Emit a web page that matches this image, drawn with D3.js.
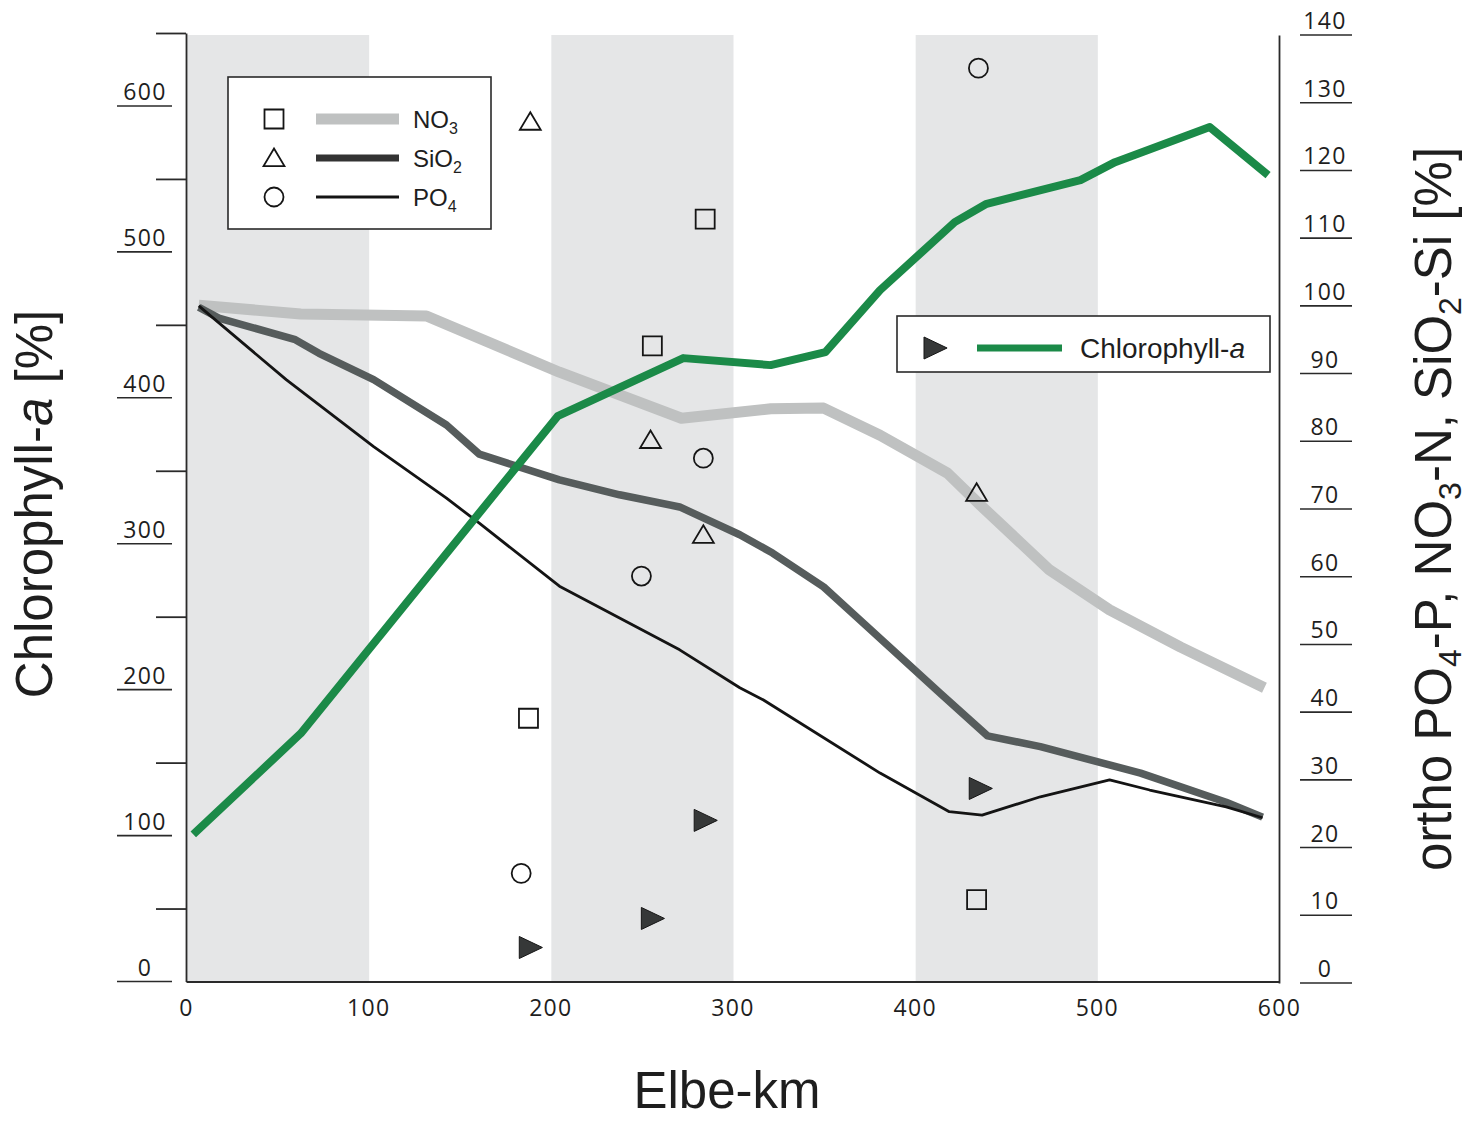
<!DOCTYPE html>
<html>
<head>
<meta charset="utf-8">
<script src="https://cdn.jsdelivr.net/npm/d3@7"></script>
<style>
  body { margin: 0; background: #fff; }
</style>
</head>
<body>
<svg id="chart" width="1470" height="1121"></svg>
<script>
// River kilometre ticks and axis ticks
const kmTicks = [0, 100, 200, 300, 400, 500, 600];
const chlLabelTicks = [0, 100, 200, 300, 400, 500, 600];
const chlMinorTicks = [50, 150, 250, 350, 450, 550, 650];
const nutrientTicks = [0, 10, 20, 30, 40, 50, 60, 70, 80, 90, 100, 110, 120, 130, 140];

// Shaded river reaches (km)
const reaches = [[0, 100], [200, 300], [400, 500]];

// Longitudinal profiles [km, %]
const no3Profile = [[7, 100.1], [63, 98.8], [132, 98.5], [205, 90.2], [272, 83.4], [321, 84.8],
  [350, 84.9], [381, 80.9], [418, 75.3], [436, 70.6], [474, 61.0], [507, 55.1], [546, 49.6], [592, 43.6]];
const sio2Profile = [[7, 99.8], [18, 98.2], [60, 95.0], [73, 93.0], [103, 89.1], [143, 82.4],
  [161, 78.1], [205, 74.3], [238, 72.1], [271, 70.3], [304, 66.2], [322, 63.5], [350, 58.5],
  [368, 54.1], [414, 42.8], [440, 36.5], [469, 34.9], [524, 31.0], [571, 26.7], [591, 24.5]];
const po4Profile = [[7, 100.0], [55, 89.1], [103, 79.2], [143, 71.6], [161, 67.9], [205, 58.6],
  [271, 49.2], [304, 43.6], [317, 41.8], [381, 31.0], [419, 25.3], [437, 24.8], [469, 27.5],
  [507, 30.0], [529, 28.5], [571, 26.0], [591, 24.4]];
const chlProfile = [[4, 100.8], [63, 170], [204, 387.4], [273, 427.2], [321, 422.4], [351, 431.3],
  [381, 473.8], [422, 520.4], [439, 532.7], [491, 549.2], [510, 561.5], [562, 585.5], [594, 552.6]];

// Single measurements [km, %]
const no3Samples = [[188, 39.1], [256, 94.1], [285, 112.8], [434, 12.3]];
const sio2Samples = [[189, 127.2], [255, 80.2], [284, 66.2], [434, 72.4]];
const po4Samples = [[184, 16.2], [250, 60.1], [284, 77.5], [435, 135.1]];
const chlSamples = [[189, 23.3], [256, 43.2], [285, 110.4], [436, 132.3]];

const colors = {
  band: "#e5e6e7",
  no3: "#bfc1c1",
  sio2: "#565c5c",
  po4: "#141414",
  chl: "#1b8a48",
  axis: "#2a2a2a",
  text: "#1e1e1e"
};

const svg = d3.select("#chart");

const x = d3.scaleLinear().domain([0, 600]).range([186, 1279]);
const yChl = d3.scaleLinear().domain([0, 650]).range([981.5, 33]);
const yNut = d3.scaleLinear().domain([0, 140]).range([983, 35]);

const tickFont = "'Open Sans', 'DejaVu Sans', sans-serif";
const tickSize = 23;
const labelFont = "'Liberation Sans', Arial, sans-serif";

// Shaded reaches
svg.append("g").selectAll("rect").data(reaches).join("rect")
  .attr("x", d => x(d[0]) + 1)
  .attr("width", d => x(d[1]) - x(d[0]))
  .attr("y", yNut(140))
  .attr("height", yChl(0) - yNut(140))
  .attr("fill", colors.band);

// Axes
const leftAxis = svg.append("g")
  .attr("transform", `translate(${x(0)},0)`)
  .call(d3.axisLeft(yChl).tickValues(chlMinorTicks).tickSize(30).tickSizeOuter(0).tickFormat(""));
const rightAxis = svg.append("g")
  .attr("transform", `translate(${x(600)},0)`)
  .call(d3.axisRight(yNut).tickValues([]).tickSizeOuter(0));
const bottomAxis = svg.append("g")
  .attr("transform", `translate(0,${yChl(0)})`)
  .call(d3.axisBottom(x).tickValues(kmTicks).tickSize(0).tickSizeOuter(0).tickPadding(18));

[leftAxis, rightAxis, bottomAxis].forEach(g => {
  g.selectAll(".domain, .tick line").attr("stroke", colors.axis).attr("stroke-width", 1.8);
});
bottomAxis.selectAll(".tick text")
  .attr("font-family", tickFont).attr("font-size", tickSize).attr("letter-spacing", 1.3)
  .attr("fill", colors.text);

// Underlined value labels, left axis
const leftLab = svg.append("g").selectAll("g").data(chlLabelTicks).join("g");
leftLab.append("line")
  .attr("x1", 117).attr("x2", 172)
  .attr("y1", d => yChl(d)).attr("y2", d => yChl(d))
  .attr("stroke", colors.axis).attr("stroke-width", 1.6);
leftLab.append("text")
  .attr("x", 145).attr("y", d => yChl(d) - 6)
  .attr("text-anchor", "middle")
  .attr("font-family", tickFont).attr("font-size", tickSize).attr("letter-spacing", 1.3)
  .attr("fill", colors.text)
  .text(d => d);

// Underlined value labels, right axis
const rightLab = svg.append("g").selectAll("g").data(nutrientTicks).join("g");
rightLab.append("line")
  .attr("x1", 1300).attr("x2", 1352)
  .attr("y1", d => yNut(d)).attr("y2", d => yNut(d))
  .attr("stroke", colors.axis).attr("stroke-width", 1.6);
rightLab.append("text")
  .attr("x", 1325).attr("y", d => yNut(d) - 6)
  .attr("text-anchor", "middle")
  .attr("font-family", tickFont).attr("font-size", tickSize).attr("letter-spacing", 1.3)
  .attr("fill", colors.text)
  .text(d => d);

// Profiles
const lineNut = d3.line().x(d => x(d[0])).y(d => yNut(d[1]));
const lineChl = d3.line().x(d => x(d[0])).y(d => yChl(d[1]));
const profiles = svg.append("g").attr("fill", "none")
  .attr("stroke-linejoin", "round").attr("stroke-linecap", "butt");
profiles.append("path").datum(no3Profile).attr("d", lineNut)
  .attr("stroke", colors.no3).attr("stroke-width", 11);
profiles.append("path").datum(sio2Profile).attr("d", lineNut)
  .attr("stroke", colors.sio2).attr("stroke-width", 7.5);
profiles.append("path").datum(po4Profile).attr("d", lineNut)
  .attr("stroke", colors.po4).attr("stroke-width", 2.8);
profiles.append("path").datum(chlProfile).attr("d", lineChl)
  .attr("stroke", colors.chl).attr("stroke-width", 8);

// Marker shapes
const shapes = {
  square: s => `M${-s},${-s}H${s}V${s}H${-s}Z`,
  triangle: s => `M0,${-s}L${s * 1.1},${s * 0.85}L${-s * 1.1},${s * 0.85}Z`,
  circle: s => `M${s},0A${s},${s} 0 1,1 ${-s},0A${s},${s} 0 1,1 ${s},0Z`,
  play: s => `M${-s},${-s}L${s * 1.1},0L${-s},${s}Z`
};

function drawMarkers(data, yScale, shape, size, filled) {
  svg.append("g").selectAll("path").data(data).join("path")
    .attr("transform", d => `translate(${x(d[0])},${yScale(d[1])})`)
    .attr("d", shapes[shape](size))
    .attr("fill", filled ? "#363838" : "none")
    .attr("stroke", "#151515")
    .attr("stroke-width", filled ? 1 : 1.8);
}
drawMarkers(no3Samples, yNut, "square", 9.5, false);
drawMarkers(sio2Samples, yNut, "triangle", 9.5, false);
drawMarkers(po4Samples, yNut, "circle", 9.5, false);
drawMarkers(chlSamples, yChl, "play", 11, true);

// Legend: nutrients
const leg1 = svg.append("g");
leg1.append("rect").attr("x", 228).attr("y", 77).attr("width", 263).attr("height", 152)
  .attr("fill", "#fff").attr("stroke", colors.axis).attr("stroke-width", 1.6);
const legItems = [
  { shape: "square", color: colors.no3, width: 11, name: "NO", sub: "3", y: 119 },
  { shape: "triangle", color: "#333", width: 7, name: "SiO", sub: "2", y: 158 },
  { shape: "circle", color: colors.po4, width: 3, name: "PO", sub: "4", y: 197 }
];
legItems.forEach(it => {
  leg1.append("path").attr("transform", `translate(274,${it.y})`)
    .attr("d", shapes[it.shape](9.5)).attr("fill", "none")
    .attr("stroke", "#151515").attr("stroke-width", 1.8);
  leg1.append("line").attr("x1", 316).attr("x2", 399).attr("y1", it.y).attr("y2", it.y)
    .attr("stroke", it.color).attr("stroke-width", it.width);
  const t = leg1.append("text").attr("x", 413).attr("y", it.y + 9)
    .attr("font-family", labelFont).attr("font-size", 24).attr("fill", colors.text);
  t.append("tspan").text(it.name);
  t.append("tspan").attr("font-size", 16).attr("dy", 6).text(it.sub);
});

// Legend: chlorophyll
const leg2 = svg.append("g");
leg2.append("rect").attr("x", 897).attr("y", 316).attr("width", 373).attr("height", 56)
  .attr("fill", "#fff").attr("stroke", colors.axis).attr("stroke-width", 1.6);
leg2.append("path").attr("transform", "translate(935,348)")
  .attr("d", shapes.play(11)).attr("fill", "#363838").attr("stroke", "#151515").attr("stroke-width", 1);
leg2.append("line").attr("x1", 977).attr("x2", 1062).attr("y1", 348).attr("y2", 348)
  .attr("stroke", colors.chl).attr("stroke-width", 7);
const chlLegText = leg2.append("text").attr("x", 1080).attr("y", 358)
  .attr("font-family", labelFont).attr("font-size", 28).attr("fill", colors.text);
chlLegText.append("tspan").text("Chlorophyll-");
chlLegText.append("tspan").attr("font-style", "italic").text("a");

// Axis titles
const titleSize = 51;
const titleLeft = svg.append("text")
  .attr("transform", "translate(52,504) rotate(-90)")
  .attr("text-anchor", "middle")
  .attr("font-family", labelFont).attr("font-size", titleSize).attr("fill", colors.text);
titleLeft.append("tspan").text("Chlorophyll-");
titleLeft.append("tspan").attr("font-style", "italic").text("a");
titleLeft.append("tspan").text(" [%]");

const titleRight = svg.append("text")
  .attr("transform", "translate(1451,509) rotate(-90)")
  .attr("text-anchor", "middle")
  .attr("font-family", labelFont).attr("font-size", titleSize).attr("fill", colors.text);
const rightParts = [["ortho PO", "4"], ["-P, NO", "3"], ["-N, SiO", "2"], ["-Si [%]", null]];
let shifted = false;
rightParts.forEach(([main, sub]) => {
  titleRight.append("tspan").attr("dy", shifted ? -10 : 0).text(main);
  shifted = false;
  if (sub) {
    titleRight.append("tspan").attr("font-size", 32).attr("dy", 10).text(sub);
    shifted = true;
  }
});

svg.append("text")
  .attr("x", 727).attr("y", 1108)
  .attr("text-anchor", "middle")
  .attr("font-family", labelFont).attr("font-size", titleSize).attr("fill", colors.text)
  .text("Elbe-km");
</script>
</body>
</html>
